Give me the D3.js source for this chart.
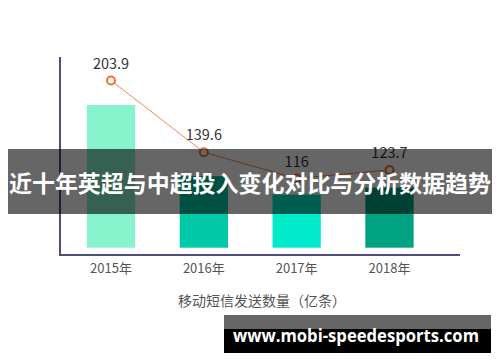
<!DOCTYPE html>
<html>
<head>
<meta charset="utf-8">
<script src="https://cdn.jsdelivr.net/npm/d3@7"></script>
<style>
  html, body { margin: 0; padding: 0; background: #fff; }
  svg { display: block; font-family: "Noto Sans CJK SC", "Noto Sans", sans-serif; }
</style>
</head>
<body>
<svg id="chart" width="500" height="362"></svg>
<script>
// chart data
const years = ['2015年', '2016年', '2017年', '2018年'];
const barValues = [285, 143, 106, 120];      // bar series, no labels in the picture
const lineValues = [203.9, 139.6, 116, 123.7];
const barColors = ['#88f2cc', '#00c9a5', '#00ebcb', '#00a282'];
const axisTitle = '移动短信发送数量（亿条）';
const bannerText = '近十年英超与中超投入变化对比与分析数据趋势';
const siteText = 'www.mobi-speedesports.com';

const svg = d3.select('#chart');

// scales
let x = d3.scaleBand()
    .domain(years)
    .range([64.6, 435.9])
    .paddingInner(0.48)
    .paddingOuter(0.24);

let yBar = d3.scaleLinear()
    .domain([0, 285])
    .range([247.7, 105]);

// line has its own axis (fitted to where the dots sit)
let yLine = d3.scaleLinear()
    .domain([116, 203.9])
    .range([178.5, 80.5]);

// bars
svg.append('g').selectAll('rect')
    .data(barValues)
    .join('rect')
    .attr('x', (d, i) => x(years[i]))
    .attr('y', d => yBar(d))
    .attr('width', x.bandwidth())
    .attr('height', d => yBar(0) - yBar(d))
    .attr('fill', (d, i) => barColors[i]);

// axis lines
svg.append('path')
    .attr('d', 'M60,57V255H460')
    .attr('fill', 'none')
    .attr('stroke', '#4d4d7e')
    .attr('stroke-width', 2);

// x tick labels
let xAxis = d3.axisBottom(x).tickSize(0).tickPadding(0);
let gx = svg.append('g')
    .attr('transform', 'translate(0,264)')
    .call(xAxis);
gx.select('.domain').remove();
gx.selectAll('text')
    .attr('dy', '0.71em')
    .style('font-size', '13px')
    .style('font-family', '"Noto Sans CJK SC", sans-serif')
    .attr('fill', '#555');

// line + points
let cx = (d, i) => x(years[i]) + x.bandwidth() / 2;
let line = d3.line()
    .x(cx)
    .y(d => yLine(d));

svg.append('path')
    .datum(lineValues)
    .attr('d', line)
    .attr('fill', 'none')
    .attr('stroke', '#f3874f')
    .attr('stroke-width', 1);

svg.append('g').selectAll('circle')
    .data(lineValues)
    .join('circle')
    .attr('cx', cx)
    .attr('cy', d => yLine(d))
    .attr('r', 4)
    .attr('fill', '#fff')
    .attr('stroke', '#f3702c')
    .attr('stroke-width', 2);

svg.append('g').selectAll('text')
    .data(lineValues)
    .join('text')
    .attr('x', cx)
    .attr('y', d => yLine(d) - 12)
    .attr('text-anchor', 'middle')
    .style('font-size', '14.5px')
    .attr('fill', '#333')
    .text(d => d);

// axis title
svg.append('text')
    .attr('x', 262)
    .attr('y', 306)
    .attr('text-anchor', 'middle')
    .style('font-size', '14px')
    .attr('fill', '#555')
    .text(axisTitle);

// dark banner across the middle
svg.append('rect')
    .attr('x', 8).attr('y', 149)
    .attr('width', 484).attr('height', 65)
    .attr('fill', 'rgba(0,0,0,0.6)');

svg.append('text')
    .attr('x', 250)
    .attr('y', 192)
    .attr('text-anchor', 'middle')
    .attr('textLength', 482)
    .attr('lengthAdjust', 'spacingAndGlyphs')
    .style('font-size', '23px')
    .style('font-weight', 'bold')
    .attr('fill', '#fff')
    .text(bannerText);

// site box bottom right
svg.append('rect')
    .attr('x', 224).attr('y', 315)
    .attr('width', 267).attr('height', 14)
    .attr('fill', '#666');
svg.append('rect')
    .attr('x', 224).attr('y', 329)
    .attr('width', 267).attr('height', 24)
    .attr('fill', '#000');
svg.append('text')
    .attr('x', 233)
    .attr('y', 342)
    .attr('textLength', 246)
    .attr('lengthAdjust', 'spacingAndGlyphs')
    .style('font-family', '"Open Sans", sans-serif')
    .style('font-size', '17px')
    .style('font-weight', 'bold')
    .attr('fill', '#fff')
    .text(siteText);
</script>
</body>
</html>
